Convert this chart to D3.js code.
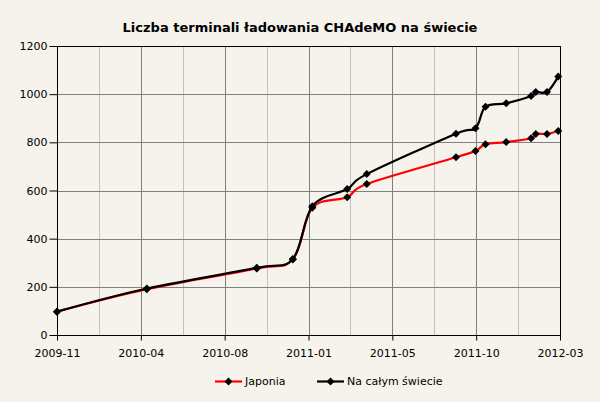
<!DOCTYPE html>
<html lang="pl">

<head>
    <meta charset="utf-8">
    <style>
        body { margin: 0; background: #f5f3eb; }
        text { font-family: "DejaVu Sans", Verdana, sans-serif; fill: #000; }
    </style>
</head>

<body>
    <script src="https://d3js.org/d3.v7.min.js"></script>
    <div id="my_dataviz"></div>
    <script>
        // data
        var dates = ["2009-11-01", "2010-04-02", "2010-10-05", "2010-12-05", "2011-01-07", "2011-03-07", "2011-04-09",
            "2011-09-07", "2011-10-10", "2011-10-27", "2011-12-01", "2012-01-12", "2012-01-20", "2012-02-08", "2012-02-27"];
        var japonia = [97, 190, 276, 314, 528, 572, 627, 738, 764, 792, 801, 817, 835, 835, 847];
        var swiat = [97, 193, 279, 316, 535, 606, 668, 836, 858, 948, 962, 992, 1009, 1009, 1073];
        var xLabels = ["2009-11", "2010-04", "2010-08", "2011-01", "2011-05", "2011-10", "2012-03"];
        var yTicks = [0, 200, 400, 600, 800, 1000, 1200];
        var seriesNames = ["Japonia", "Na całym świecie"];
        var seriesColors = ["#ff0000", "#000000"];

        var width = 600, height = 402;
        var margin = { left: 57, right: 40, top: 46, bottom: 67 };

        var parse = d3.timeParse("%Y-%m-%d");
        var start = parse("2009-11-01"), end = parse("2012-03-01");

        var svg = d3.select("#my_dataviz")
            .append("svg")
            .attr("width", width)
            .attr("height", height)
            .style("display", "block")
            .style("background", "#f5f3eb");

        var x = d3.scaleTime()
            .domain([start, end])
            .range([margin.left, width - margin.right]);
        var y = d3.scaleLinear()
            .domain([0, 1200])
            .range([height - margin.bottom, margin.top]);

        // 12 equal steps on the x axis, every second one labelled
        var xSteps = d3.range(13).map(function (i) {
            return new Date(+start + i * (end - start) / 12);
        });

        // title
        svg.append("text")
            .attr("x", 300).attr("y", 32)
            .attr("text-anchor", "middle")
            .style("font-size", "13px").style("font-weight", "bold")
            .text("Liczba terminali ładowania CHAdeMO na świecie");

        // grid
        svg.append("g").selectAll("line")
            .data(xSteps.slice(1, 12))
            .enter().append("line")
            .attr("x1", function (d) { return Math.round(x(d)) + 0.5; })
            .attr("x2", function (d) { return Math.round(x(d)) + 0.5; })
            .attr("y1", y(1200)).attr("y2", y(0))
            .style("stroke", function (d, i) { return i % 2 == 0 ? "#c0c0c0" : "#808080"; })
            .style("stroke-width", 1);

        svg.append("g").selectAll("line")
            .data(yTicks.slice(1, 6))
            .enter().append("line")
            .attr("x1", x(start)).attr("x2", x(end))
            .attr("y1", function (d) { return Math.round(y(d)) + 0.5; })
            .attr("y2", function (d) { return Math.round(y(d)) + 0.5; })
            .style("stroke", "#808080")
            .style("stroke-width", 1);

        // axes
        var yAxis = d3.axisLeft(y)
            .tickValues(yTicks)
            .tickFormat(d3.format("d"))
            .tickSize(8)
            .tickPadding(2);
        var yg = svg.append("g")
            .attr("transform", "translate(" + (Math.round(x(start)) + 0.5) + ",0)")
            .call(yAxis);
        yg.select(".domain").remove();
        yg.selectAll("text").style("font-size", "11px").style("font-family", "DejaVu Sans");

        var xAxis = d3.axisBottom(x)
            .tickValues(xSteps.filter(function (d, i) { return i % 2 == 0; }))
            .tickFormat(function (d, i) { return xLabels[i]; })
            .tickSize(5)
            .tickPadding(9);
        var xg = svg.append("g")
            .attr("transform", "translate(0," + (Math.round(y(0)) + 0.5) + ")")
            .call(xAxis);
        xg.select(".domain").remove();
        xg.selectAll("text").style("font-size", "11px").style("font-family", "DejaVu Sans");

        // frame
        svg.append("rect")
            .attr("x", Math.round(x(start)) + 0.5).attr("y", Math.round(y(1200)) + 0.5)
            .attr("width", Math.round(x(end)) - Math.round(x(start)))
            .attr("height", Math.round(y(0)) - Math.round(y(1200)))
            .style("fill", "none").style("stroke", "#000").style("stroke-width", 1);

        // series
        var series = [japonia, swiat].map(function (vals, k) {
            return {
                name: seriesNames[k], color: seriesColors[k],
                points: vals.map(function (v, i) { return { date: parse(dates[i]), value: v }; })
            };
        });

        var line = d3.line()
            .x(function (d) { return x(d.date); })
            .y(function (d) { return y(d.value); })
            .curve(d3.curveCatmullRom.alpha(0));

        var diamond = function (cx, cy, r) {
            return "M" + cx + "," + (cy - r) + "L" + (cx + r) + "," + cy + "L" + cx + "," + (cy + r) + "L" + (cx - r) + "," + cy + "Z";
        };

        series.forEach(function (s) {
            svg.append("path")
                .datum(s.points)
                .attr("d", line)
                .style("fill", "none")
                .style("stroke", s.color)
                .style("stroke-width", 2.2);
        });
        series.forEach(function (s) {
            svg.append("g").selectAll("path")
                .data(s.points)
                .enter().append("path")
                .attr("d", function (d) { return diamond(x(d.date), y(d.value), 4); })
                .style("fill", "#000");
        });

        // legend
        var legendX = [215, 317];
        var legendY = 381.5;
        seriesNames.forEach(function (name, k) {
            svg.append("line")
                .attr("x1", legendX[k]).attr("x2", legendX[k] + 27)
                .attr("y1", legendY).attr("y2", legendY)
                .style("stroke", seriesColors[k]).style("stroke-width", 2.2);
            svg.append("path")
                .attr("d", diamond(legendX[k] + 13.5, legendY, 4))
                .style("fill", "#000");
            svg.append("text")
                .attr("x", legendX[k] + 30).attr("y", legendY)
                .attr("dy", "0.35em")
                .style("font-size", "11px")
                .text(name);
        });
    </script>
</body>

</html>
